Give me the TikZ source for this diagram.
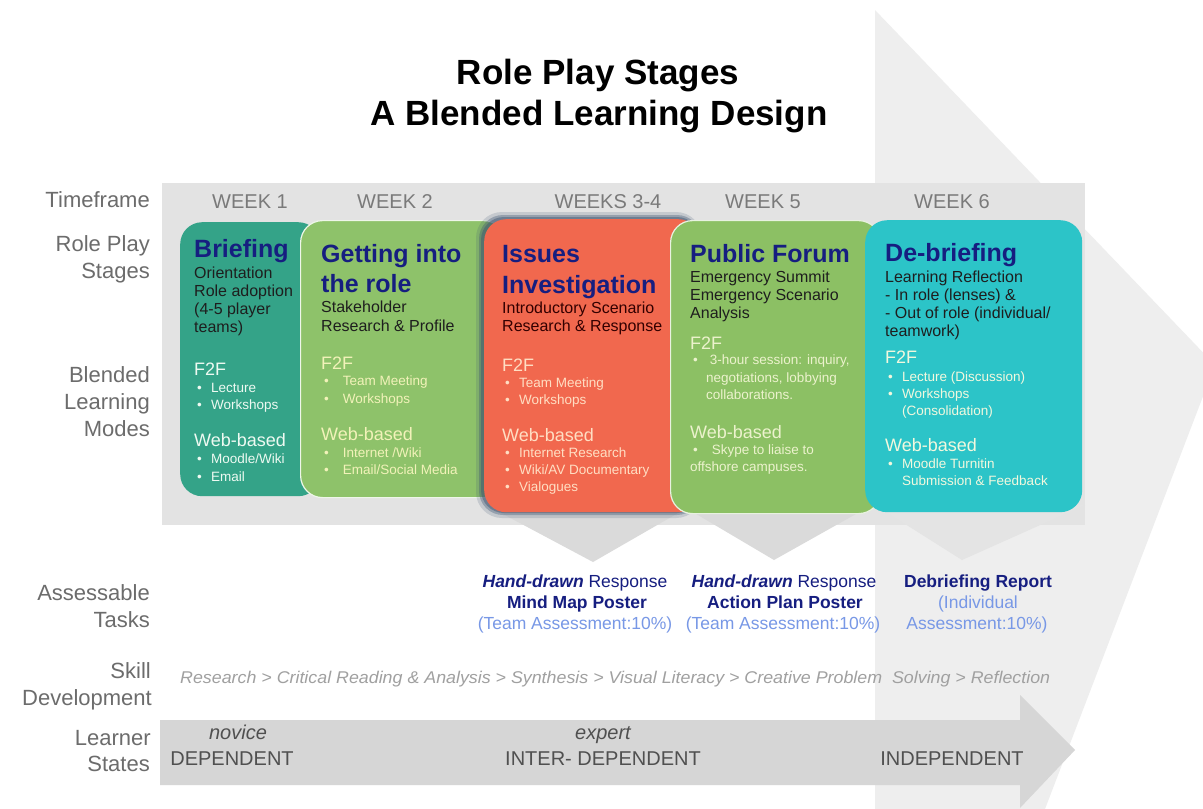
\documentclass[tikz,border=0pt]{standalone}
\usepackage{fontspec}
\setmainfont{Liberation Sans}
\usepackage{graphicx}
\definecolor{labgrey}{RGB}{108,108,108}
\definecolor{wkgrey}{RGB}{122,122,122}
\definecolor{headgrey}{RGB}{238,238,238}
\definecolor{bandgrey}{RGB}{227,227,227}
\definecolor{chevgrey}{RGB}{218,218,218}
\definecolor{chevlight}{RGB}{228,228,228}
\definecolor{bargrey}{RGB}{214,214,214}
\definecolor{tealc}{RGB}{52,163,136}
\definecolor{greenc}{RGB}{142,194,106}
\definecolor{redc}{RGB}{241,104,78}
\definecolor{green2c}{RGB}{140,192,100}
\definecolor{cyanc}{RGB}{44,196,200}
\definecolor{navy}{RGB}{22,30,128}
\definecolor{subc}{RGB}{30,30,30}
\definecolor{lightblue}{RGB}{120,152,230}
\definecolor{skillgrey}{RGB}{160,160,160}
\definecolor{bargtext}{RGB}{80,80,80}
\definecolor{shadowc}{RGB}{62,84,112}
\definecolor{tealtext}{RGB}{238,250,242}
\definecolor{greentext}{RGB}{242,242,185}
\definecolor{redtext}{RGB}{255,222,195}
\definecolor{green2text}{RGB}{236,242,205}
\definecolor{cyantext}{RGB}{242,248,222}
\newcommand\Put[5]{\node[#1] (#2) at (#3,#4) {#5};}
\newcommand\bul[1][14pt]{\makebox[#1][l]{\textbullet}}
\begin{document}
\begin{tikzpicture}[x=1pt,y=-1pt,
  lab/.style={anchor=base east, inner sep=0, text=labgrey, font=\fontsize{22}{26}\selectfont},
  wk/.style={anchor=base, inner sep=0, text=wkgrey, font=\fontsize{20}{24}\selectfont},
  stagebox/.style={anchor=north west, rounded corners=22pt, inner sep=0},
  ttl/.style={anchor=base west, inner sep=0, text=navy, font=\bfseries\fontsize{25}{30}\selectfont},
  sub/.style={anchor=base west, inner sep=0, text=subc, font=\fontsize{16}{18}\selectfont},
  mode/.style={anchor=base west, inner sep=0, font=\fontsize{18}{20}\selectfont},
  item/.style={anchor=base west, inner sep=0, font=\fontsize{13.5}{17}\selectfont},
  task/.style={anchor=base, inner sep=0, text=navy, font=\fontsize{17.5}{21}\selectfont},
  taskpct/.style={anchor=base, inner sep=0, text=lightblue, font=\fontsize{17.5}{21}\selectfont},
  bartext/.style={anchor=base, inner sep=0, text=bargtext, font=\fontsize{20}{24}\selectfont},
  titlefont/.style={anchor=base, inner sep=0, text=black, font=\bfseries\fontsize{35}{40}\selectfont}
]
\useasboundingbox (0,0) rectangle (1203,809);
\fill[white] (0,0) rectangle (1203,809);

% big background arrow head and band
\fill[headgrey] (875,10) -- (1215,365) -- (1045,809) -- (875,809) -- cycle;
\fill[bandgrey] (162,183) rectangle (1085,525);

% chevrons under the stages
\fill[chevgrey] (486,505) -- (692,505) -- (593,562) -- cycle;
\fill[chevgrey] (681,505) -- (872,505) -- (774,560) -- cycle;
\fill[chevlight] (875,505) -- (1085,505) -- (962,560) -- cycle;

% learner states arrow
\fill[bargrey] (160,720) -- (1020,720) -- (1020,695) -- (1075,750) -- (1020,808) -- (1020,785) -- (160,785) -- cycle;

% title
\Put{titlefont}{title1}{598}{84}{Role Play Stages}
\Put{titlefont}{title2}{599}{125}{A Blended Learning Design}

% left labels
\Put{lab}{l1}{150}{207}{Timeframe}
\Put{lab}{l2a}{150}{251}{Role Play}
\Put{lab}{l2b}{150}{278}{Stages}
\Put{lab}{l3a}{150}{382}{Blended}
\Put{lab}{l3b}{150}{409}{Learning}
\Put{lab}{l3c}{150}{436}{Modes}
\Put{lab}{l4a}{150}{600}{Assessable}
\Put{lab}{l4b}{150}{627}{Tasks}
\Put{lab}{l5a}{151}{678}{Skill}
\Put{lab}{l5b}{152}{705}{Development}
\Put{lab}{l6a}{151}{745}{Learner}
\Put{lab}{l6b}{150}{771}{States}

% week labels
\Put{wk}{w1}{250}{208}{WEEK 1}
\Put{wk}{w2}{395}{208}{WEEK 2}
\Put{wk}{w3}{608}{208}{WEEKS 3-4}
\Put{wk}{w5}{763}{208}{WEEK 5}
\Put{wk}{w6}{952}{208}{WEEK 6}

% stage boxes
\node[stagebox, fill=tealc, minimum width=140pt, minimum height=274pt] (briefing) at (180,222) {};
\node[stagebox, fill=greenc, draw=white!85!greenc, line width=1.2pt, minimum width=205pt, minimum height=277pt] (getting) at (300,220) {};
\fill[shadowc, opacity=0.18, rounded corners=26pt] (476,212) rectangle (702,518);
\fill[shadowc, opacity=0.35, rounded corners=24pt] (479,215) rectangle (701,515);
\fill[shadowc, opacity=0.45, rounded corners=23pt] (481,217) rectangle (700,513);
\node[stagebox, fill=redc, minimum width=216pt, minimum height=293pt] (issues) at (484,219) {};
\node[stagebox, fill=green2c, draw=white!80!green2c, line width=1.2pt, minimum width=210pt, minimum height=293pt] (forum) at (670,220) {};
\node[stagebox, fill=cyanc, minimum width=217pt, minimum height=292pt] (debrief) at (865,220) {};

% Briefing text
\Put{ttl}{bt}{194}{257}{Briefing}
\Put{sub}{bs1}{194}{278}{Orientation}
\Put{sub}{bs2}{194}{296}{Role adoption}
\Put{sub}{bs3}{194}{314}{(4-5 player}
\Put{sub}{bs4}{194}{332}{teams)}
\Put{mode,text=tealtext}{bm1}{194}{375}{F2F}
\Put{item,text=tealtext}{bi1}{197}{392}{\bul Lecture}
\Put{item,text=tealtext}{bi2}{197}{409}{\bul Workshops}
\Put{mode,text=tealtext}{bm2}{194}{446}{Web-based}
\Put{item,text=tealtext}{bi3}{197}{463}{\bul Moodle/Wiki}
\Put{item,text=tealtext}{bi4}{197}{481}{\bul Email}

% Getting into the role text
\Put{ttl}{gt1}{321}{262}{Getting into}
\Put{ttl}{gt2}{321}{292}{the role}
\Put{sub}{gs1}{321}{312}{Stakeholder}
\Put{sub}{gs2}{321}{331}{Research \& Profile}
\Put{mode,text=greentext}{gm1}{321}{369}{F2F}
\Put{item,text=greentext}{gi1}{324}{385}{\bul[15pt] Team Meeting}
\Put{item,text=greentext}{gi2}{324}{403}{\bul[15pt] Workshops}
\Put{mode,text=greentext}{gm2}{321}{440}{Web-based}
\Put{item,text=greentext}{gi3}{324}{457}{\bul[15pt] Internet /Wiki}
\Put{item,text=greentext}{gi4}{324}{474}{\bul[15pt] Email/Social Media}

% Issues Investigation text
\Put{ttl}{it1}{502}{262}{Issues}
\Put{ttl}{it2}{502}{293}{Investigation}
\Put{sub,text=black!80!red}{is1}{502}{313}{Introductory Scenario}
\Put{sub,text=black!80!red}{is2}{502}{331}{Research \& Response}
\Put{mode,text=redtext}{im1}{502}{371}{F2F}
\Put{item,text=redtext}{ii1}{505}{387}{\bul Team Meeting}
\Put{item,text=redtext}{ii2}{505}{404}{\bul Workshops}
\Put{mode,text=redtext}{im2}{502}{441}{Web-based}
\Put{item,text=redtext}{ii3}{505}{457}{\bul Internet Research}
\Put{item,text=redtext}{ii4}{505}{474}{\bul Wiki/AV Documentary}
\Put{item,text=redtext}{ii5}{505}{491}{\bul Vialogues}

% Public Forum text
\Put{ttl}{pt}{690}{262}{Public Forum}
\Put{sub}{ps1}{690}{282}{Emergency Summit}
\Put{sub}{ps2}{690}{300}{Emergency Scenario}
\Put{sub}{ps3}{690}{318}{Analysis}
\Put{mode,text=green2text}{pm1}{690}{349}{F2F}
\Put{item,text=green2text}{pi1}{693}{364}{\bul[13pt] 3-hour session: inquiry,}
\Put{item,text=green2text}{pi2}{706}{382}{negotiations, lobbying}
\Put{item,text=green2text}{pi3}{706}{399}{collaborations.}
\Put{mode,text=green2text}{pm2}{690}{438}{Web-based}
\Put{item,text=green2text}{pi4}{693}{454}{\bul[15pt] Skype to liaise to}
\Put{item,text=green2text}{pi5}{690}{471}{offshore campuses.}

% De-briefing text
\Put{ttl}{dt}{885}{261}{De-briefing}
\Put{sub}{ds1}{885}{282}{Learning Reflection}
\Put{sub}{ds2}{885}{300}{- In role (lenses) \&}
\Put{sub}{ds3}{885}{318}{- Out of role (individual/}
\Put{sub}{ds4}{885}{336}{teamwork)}
\Put{mode,text=cyantext}{dm1}{885}{363}{F2F}
\Put{item,text=cyantext}{di1}{888}{381}{\bul Lecture (Discussion)}
\Put{item,text=cyantext}{di2}{888}{398}{\bul Workshops}
\Put{item,text=cyantext}{di3}{902}{415}{(Consolidation)}
\Put{mode,text=cyantext}{dm2}{885}{451}{Web-based}
\Put{item,text=cyantext}{di4}{888}{468}{\bul Moodle Turnitin}
\Put{item,text=cyantext}{di5}{902}{485}{Submission \& Feedback}

% assessable tasks
\Put{task}{a1a}{575}{587}{\textbf{\textit{Hand-drawn}} Response}
\Put{task}{a1b}{577}{608}{\textbf{Mind Map Poster}}
\Put{taskpct}{a1c}{575}{629}{(Team Assessment:10\%)}
\Put{task}{a2a}{784}{587}{\textbf{\textit{Hand-drawn}} Response}
\Put{task}{a2b}{785}{608}{\textbf{Action Plan Poster}}
\Put{taskpct}{a2c}{783}{629}{(Team Assessment:10\%)}
\Put{task}{a3a}{978}{587}{\textbf{Debriefing Report}}
\Put{taskpct}{a3b}{978}{608}{(Individual}
\Put{taskpct}{a3c}{977}{629}{Assessment:10\%)}

% skill development
\node[anchor=base west, inner sep=0, text=skillgrey, font=\itshape\fontsize{17}{20}\selectfont] (skills) at (180,683)
  {\resizebox{870pt}{\height}{Research > Critical Reading \& Analysis > Synthesis > Visual Literacy > Creative Problem\ \ Solving > Reflection}};

% learner states
\Put{bartext,font=\itshape\fontsize{20}{24}\selectfont}{nov}{238}{739}{novice}
\Put{bartext}{dep}{232}{765}{DEPENDENT}
\Put{bartext,font=\itshape\fontsize{20}{24}\selectfont}{exp}{603}{739}{expert}
\Put{bartext}{inter}{603}{765}{INTER- DEPENDENT}
\Put{bartext}{indep}{952}{765}{INDEPENDENT}
\end{tikzpicture}
\end{document}
